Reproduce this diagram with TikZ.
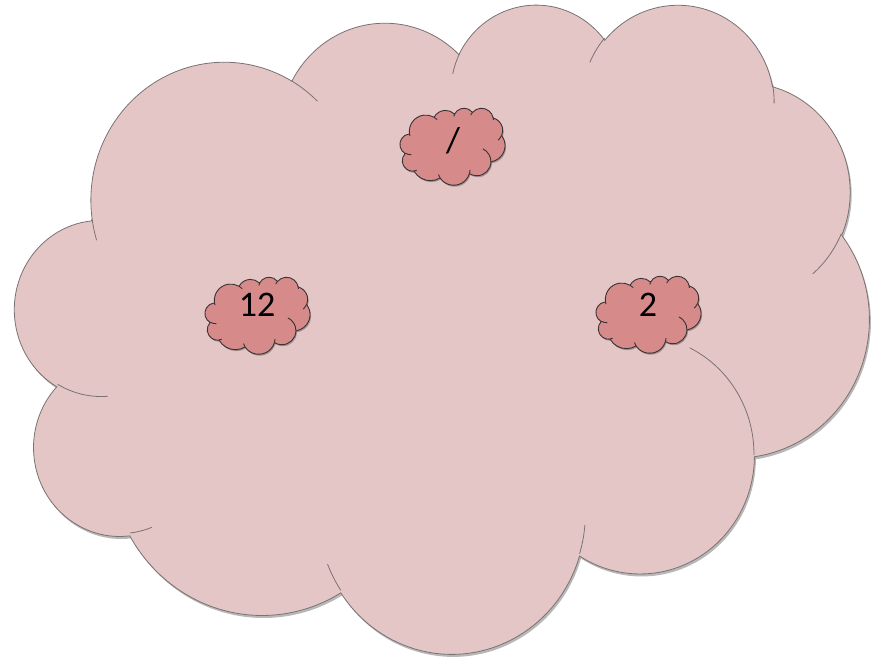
\documentclass[tikz,border=0pt]{standalone}
\usepackage{fontspec}
\setmainfont{Carlito}
\definecolor{cloudpink}{HTML}{E5C6C7}
\definecolor{cloudline}{HTML}{7A7272}
\definecolor{puffred}{HTML}{D68A8A}
\definecolor{puffline}{HTML}{3A3333}

% one arc of the cloud: start angle, sweep, x radius, y radius
\newcommand{\puff}[4]{arc[start angle={pa(#1,#3,#4)}, end angle={pa(#1+#2,#3,#4)}, x radius=#3, y radius=#4]}

% outline of the cloud in a 432 x 432 box
\newcommand{\cloudoutline}{(39.00,143.70)
  \puff{-190.4875}{123.7805}{67.53}{91.90}
  \puff{-144.1024}{89.9452}{53.33}{72.67}
  \puff{-145.8079}{99.7230}{43.65}{59.45}
  \puff{-130.9861}{117.2417}{48.57}{65.95}
  \puff{-78.7089}{109.0269}{53.33}{72.73}
  \puff{-46.2673}{130.2690}{67.75}{92.20}
  \puff{0.6250}{114.0333}{57.85}{78.67}
  \puff{22.4516}{115.1726}{67.52}{92.15}
  \puff{66.2426}{75.7110}{77.20}{105.43}
  \puff{-274.9421}{146.7356}{43.60}{59.18}
  \puff{-246.8285}{152.5189}{43.45}{59.45}
  -- cycle}

% inner arcs between the puffs
\newcommand{\cloudribs}{
  (46.93,261.77) \puff{86.7420}{26.4295}{43.45}{59.45}
  (69.28,348.99) \puff{73.6105}{11.4475}{43.60}{59.18}
  (164.78,390.90) \puff{137.6242}{14.0811}{67.52}{92.15}
  (288.27,347.51) \puff{6.4533}{15.9984}{67.52}{92.15}
  (341.29,229.54) \puff{-70.2924}{70.9174}{57.85}{78.67}
  (417.98,153.54) \puff{30.3180}{27.7515}{53.33}{72.73}
  (383.24,54.26) \puff{-13.7443}{14.8589}{48.57}{65.95}
  (290.78,39.52) \puff{-149.1815}{18.1954}{48.57}{65.95}
  (221.41,47.20) \puff{-163.4943}{17.6864}{43.65}{59.45}
  (140.00,51.92) \puff{-66.7070}{12.3194}{67.53}{91.90}
  (41.27,157.89) \puff{157.6544}{11.8582}{67.53}{91.90}}

\begin{document}
\begin{tikzpicture}[
    x=1pt, y=-1pt,
    declare function={pa(\ang,\rx,\ry) = \ang + (atan2(\rx*sin(\ang),\ry*cos(\ang)) - \ang)
        - 360*round((atan2(\rx*sin(\ang),\ry*cos(\ang)) - \ang)/360);},
    shadow/.style={fill=black, opacity=0.28},
    big cloud/.style={fill=cloudpink, draw=cloudline, line width=0.8pt},
    small cloud/.style={fill=puffred, draw=puffline, line width=0.9pt},
    puff text/.style={font=\fontsize{36}{40}\selectfont, inner sep=0pt}
  ]
  \useasboundingbox (0,0) rectangle (879,658);

  % 1. The big cloud with its shadow
  \begin{scope}[shift={(16.5,5.5)}, x=1.9769pt, y=-1.5023pt]
    \fill[shadow] \cloudoutline;
  \end{scope}
  \begin{scope}[shift={(15,3)}, x=1.9769pt, y=-1.5023pt]
    \path[big cloud] \cloudoutline;
    \draw[cloudline, line width=0.8pt] \cloudribs;
  \end{scope}

  % 2. The three small clouds
  \foreach \cx/\cy in {400/108, 205/277, 596/276} {
    \begin{scope}[shift={(\cx+1,\cy+1.5)}, x=0.2431pt, y=-0.1782pt]
      \fill[shadow] \cloudoutline;
    \end{scope}
    \begin{scope}[shift={(\cx,\cy)}, x=0.2431pt, y=-0.1782pt]
      \path[small cloud] \cloudoutline;
      \draw[puffline, line width=0.9pt] \cloudribs;
    \end{scope}
  }

  % 3. The labels
  \node[puff text] (slash) at (453,141) {/};
  \node[puff text] (twelve) at (257,305) {12};
  \node[puff text] (two) at (648,305) {2};

\end{tikzpicture}
\end{document}
